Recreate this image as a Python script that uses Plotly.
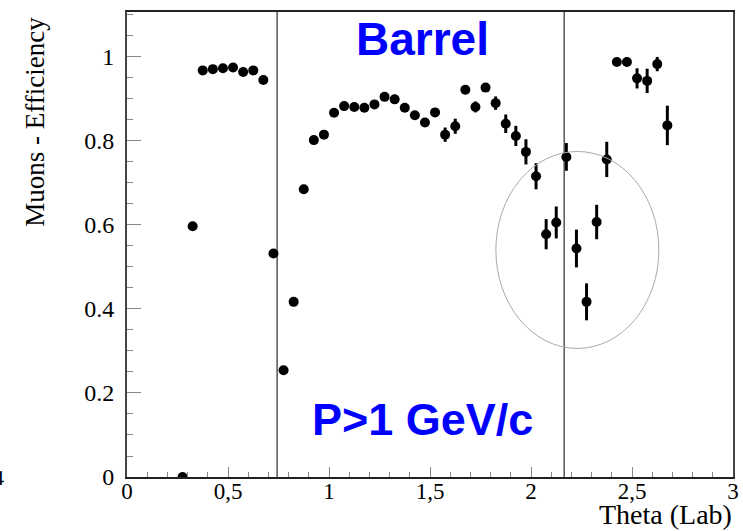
import plotly.graph_objects as go

# Muon identification efficiency versus polar angle (lab frame), P > 1 GeV/c
theta = [0.275, 0.325, 0.375, 0.425, 0.475, 0.525, 0.575, 0.625, 0.675,
         0.725, 0.775, 0.825, 0.875, 0.925, 0.975, 1.025, 1.075, 1.125,
         1.175, 1.225, 1.275, 1.325, 1.375, 1.425, 1.475, 1.525, 1.575,
         1.625, 1.675, 1.725, 1.775, 1.825, 1.875, 1.925, 1.975, 2.025,
         2.075, 2.125, 2.175, 2.225, 2.275, 2.325, 2.375, 2.425, 2.475,
         2.525, 2.575, 2.625, 2.675]
efficiency = [0.0, 0.597, 0.968, 0.971, 0.973, 0.975, 0.964, 0.968, 0.945,
              0.532, 0.254, 0.417, 0.685, 0.802, 0.815, 0.867, 0.883, 0.881,
              0.879, 0.887, 0.905, 0.899, 0.879, 0.861, 0.844, 0.868, 0.815,
              0.835, 0.922, 0.881, 0.927, 0.890, 0.841, 0.812, 0.774, 0.716,
              0.578, 0.606, 0.762, 0.544, 0.417, 0.607, 0.756, 0.988, 0.988,
              0.949, 0.943, 0.983, 0.837]
eff_error = [0.0, 0.010, 0.006, 0.006, 0.006, 0.006, 0.006, 0.006, 0.006,
             0.010, 0.008, 0.008, 0.010, 0.008, 0.008, 0.008, 0.008, 0.008,
             0.008, 0.008, 0.008, 0.008, 0.008, 0.008, 0.009, 0.009, 0.017,
             0.018, 0.010, 0.013, 0.010, 0.016, 0.022, 0.024, 0.030, 0.031,
             0.036, 0.038, 0.033, 0.045, 0.044, 0.041, 0.042, 0.006, 0.006,
             0.024, 0.029, 0.017, 0.047]

x_ticks = [0, 0.5, 1, 1.5, 2, 2.5, 3]
x_tick_text = ["0", "0,5", "1", "1,5", "2", "2,5", "3"]
y_ticks = [0, 0.2, 0.4, 0.6, 0.8, 1.0]
y_tick_text = ["0", "0.2", "0.4", "0.6", "0.8", "1"]

barrel_edges = [0.743, 2.164]
# region of the barrel/endcap transition with degraded efficiency
gap_region = dict(x0=1.826, x1=2.633, y0=0.306, y1=0.775)

serif = "Liberation Serif, Times New Roman, serif"
sans = "Liberation Sans, Arial, sans-serif"

fig = go.Figure()
fig.add_trace(go.Scatter(
    x=theta, y=efficiency, mode="markers",
    marker=dict(color="black", size=10, symbol="circle"),
    error_y=dict(type="data", array=eff_error, visible=True,
                 color="black", thickness=3, width=0),
    showlegend=False,
))

for edge in barrel_edges:
    fig.add_shape(type="line", xref="x", yref="paper", x0=edge, x1=edge,
                  y0=0, y1=1, line=dict(color="black", width=1))

fig.add_shape(type="circle", xref="x", yref="y", **gap_region,
              line=dict(color="#aaaaaa", width=1))

fig.add_annotation(x=1.465, y=1.043, xref="x", yref="y", text="<b>Barrel</b>",
                   showarrow=False, font=dict(family=sans, size=46, color="#0000ff"),
                   xanchor="center", yanchor="middle")
fig.add_annotation(x=1.465, y=0.136, xref="x", yref="y", text="<b>P>1 GeV/c</b>",
                   showarrow=False, font=dict(family=sans, size=45, color="#0000ff"),
                   xanchor="center", yanchor="middle")

fig.add_annotation(x=-0.151, y=0.765, xref="paper", yref="paper",
                   text="Muons - Efficiency", textangle=-90, showarrow=False,
                   font=dict(family=serif, size=27, color="black"),
                   xanchor="center", yanchor="middle")
fig.add_annotation(x=1.0, y=-0.1165, xref="paper", yref="paper",
                   text="Theta (Lab)", showarrow=False,
                   font=dict(family=serif, size=28, color="black"),
                   xanchor="right", yanchor="bottom", borderpad=0)
fig.add_annotation(x=-0.199, y=0.0, xref="paper", yref="paper",
                   text="4", showarrow=False,
                   font=dict(family=serif, size=22, color="black"),
                   xanchor="right", yanchor="middle")

fig.update_xaxes(
    range=[0, 3], tickmode="array", tickvals=x_ticks, ticktext=x_tick_text,
    ticks="inside", ticklen=10, tickwidth=1, tickcolor="#888888",
    minor=dict(ticks="inside", tick0=0, dtick=0.1, ticklen=5,
               tickcolor="#888888", tickwidth=1),
    showgrid=False, zeroline=False, showline=True, linecolor="#222222",
    linewidth=2, mirror=True, automargin=False,
    tickfont=dict(family=serif, size=23, color="black"),
    ticklabelstandoff=-8,
)
fig.update_yaxes(
    range=[0, 1.107], tickmode="array", tickvals=y_ticks, ticktext=y_tick_text,
    ticks="inside", ticklen=14, tickwidth=1, tickcolor="#888888",
    minor=dict(ticks="inside", tick0=0, dtick=0.05, ticklen=6,
               tickcolor="#888888", tickwidth=1),
    showgrid=False, zeroline=False, showline=True, linecolor="#444444",
    linewidth=2, mirror=True, automargin=False,
    tickfont=dict(family=serif, size=24, color="black"),
    ticklabelstandoff=6,
)

fig.update_layout(
    width=743, height=531,
    margin=dict(l=127, r=10, t=12, b=54),
    paper_bgcolor="white", plot_bgcolor="white",
)

fig.write_html("out.html")
